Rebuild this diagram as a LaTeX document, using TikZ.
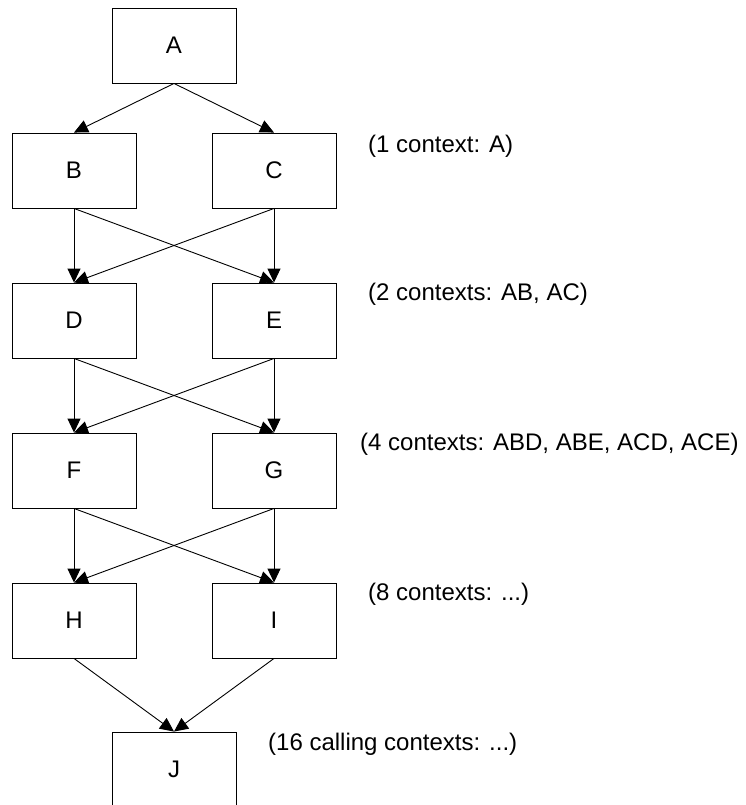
\documentclass[tikz,border=0pt]{standalone}
\usepackage{fontspec}
\setmainfont{Liberation Sans}
\usetikzlibrary{arrows.meta}
\begin{document}
\begin{tikzpicture}[x=1pt,y=-1pt,
  box/.style={draw=black,line width=0.9pt,minimum width=124pt,minimum height=75pt,inner sep=0pt,font=\fontsize{24}{28}\selectfont},
  lbl/.style={anchor=west,inner sep=0pt,font=\fontsize{24}{28}\selectfont},
  conn/.style={draw=black,line width=0.9pt,-{Triangle[length=14pt,width=13pt]}}]
\useasboundingbox (0,0) rectangle (746,805);
\node[box] (A) at (174,45.5) {A};
\node[box] (B) at (74,170.5) {B};
\node[box] (C) at (274,170.5) {C};
\node[box] (D) at (74,320.5) {D};
\node[box] (E) at (274,320.5) {E};
\node[box] (F) at (74,470.5) {F};
\node[box] (G) at (274,470.5) {G};
\node[box] (H) at (74,620.5) {H};
\node[box] (I) at (274,620.5) {I};
\node[box] (J) at (174,769.5) {J};
\node[lbl] (l1) at (368,146) {(1 context: A)};
\node[lbl] (l2) at (368,294) {(2 contexts: AB, AC)};
\node[lbl] (l3) at (360,444) {(4 contexts: ABD, ABE, ACD, ACE)};
\node[lbl] (l4) at (368,594) {(8 contexts: ...)};
\node[lbl] (l5) at (268,744) {(16 calling contexts: ...)};
\draw[conn] (A.south) -- (B.north);
\draw[conn] (A.south) -- (C.north);
\draw[conn] (B.south) -- (D.north);
\draw[conn] (B.south) -- (E.north);
\draw[conn] (C.south) -- (D.north);
\draw[conn] (C.south) -- (E.north);
\draw[conn] (D.south) -- (F.north);
\draw[conn] (D.south) -- (G.north);
\draw[conn] (E.south) -- (F.north);
\draw[conn] (E.south) -- (G.north);
\draw[conn] (F.south) -- (H.north);
\draw[conn] (F.south) -- (I.north);
\draw[conn] (G.south) -- (H.north);
\draw[conn] (G.south) -- (I.north);
\draw[conn] (H.south) -- (J.north);
\draw[conn] (I.south) -- (J.north);
\end{tikzpicture}
\end{document}
